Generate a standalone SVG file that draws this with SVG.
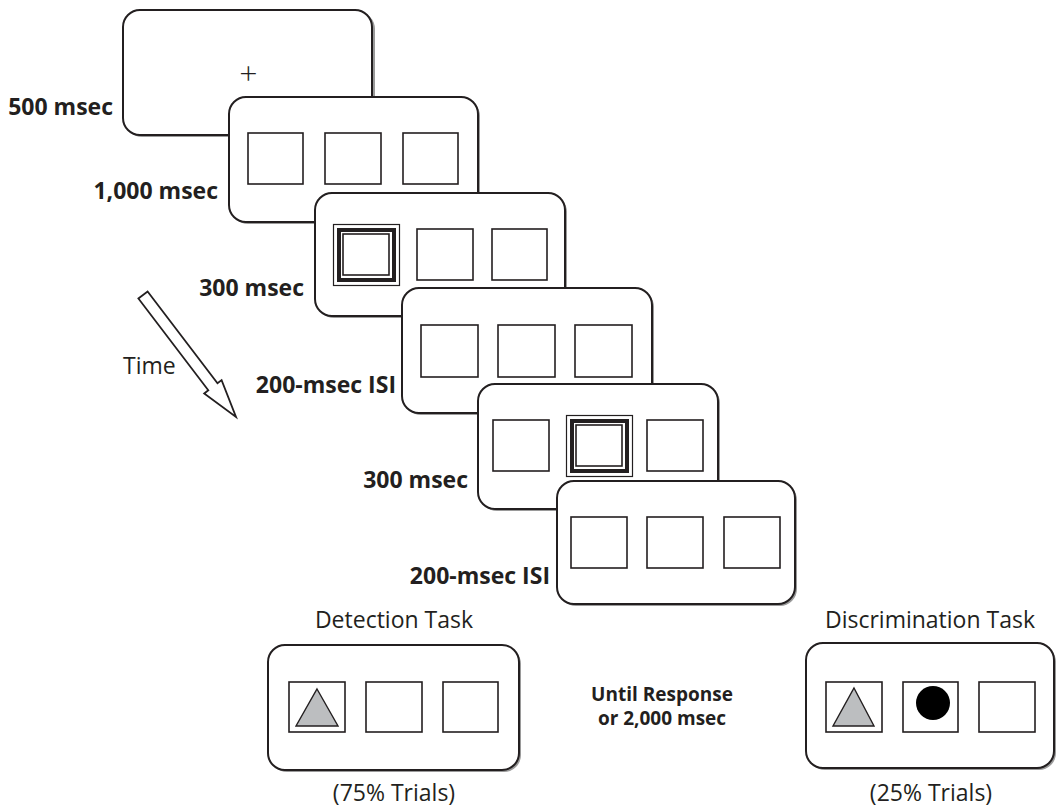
<svg xmlns="http://www.w3.org/2000/svg" width="1057" height="808" viewBox="0 0 1057 808">
<defs>
<style>
.bg{fill:#fff}
.sh{fill:#9a9a9a}
.fr{fill:#fff;stroke:#231f20;stroke-width:2}
.sq{fill:#fff;stroke:#231f20;stroke-width:1.6}
.thin{fill:none;stroke:#231f20;stroke-width:1.2}
.thick{fill:none;stroke:#231f20;stroke-width:4}
.inner{fill:none;stroke:#231f20;stroke-width:1.6}
.tri{fill:#bcbec0;stroke:#231f20;stroke-width:1.4}
.lbl{font-family:"Open Sans","Liberation Sans",sans-serif;font-weight:bold;font-size:23px;fill:#231f20;text-anchor:end}
.cap{font-family:"Open Sans","Liberation Sans",sans-serif;font-size:23px;fill:#231f20;text-anchor:middle}
.ur{font-family:"Open Sans","Liberation Sans",sans-serif;font-weight:bold;font-size:19px;fill:#231f20;text-anchor:middle}
</style>
<g id="cue">
<rect class="thin" x="0.5" y="0.5" width="66" height="61"/>
<rect class="thick" x="6" y="6" width="55" height="50"/>
<rect class="inner" x="10" y="10" width="46" height="41"/>
</g>
</defs>
<rect class="bg" width="1057" height="808"/>

<g id="frame1">
<rect class="sh" x="125" y="12" width="250" height="125" rx="17"/>
<rect class="fr" x="123" y="10" width="249" height="125" rx="17"/>
<text x="248.5" y="85" style="font-family:'Open Sans','Liberation Sans',sans-serif;font-size:32px;font-weight:300;fill:#231f20;text-anchor:middle">+</text>
<text class="lbl" x="113" y="115">500 msec</text>
</g>

<g id="frame2">
<rect class="sh" x="231" y="99" width="249" height="125" rx="17"/>
<rect class="fr" x="229" y="97" width="249" height="125" rx="17"/>
<rect class="sq" x="248" y="133" width="55" height="51"/>
<rect class="sq" x="325" y="133" width="56" height="51"/>
<rect class="sq" x="403" y="133" width="55" height="51"/>
<text class="lbl" x="218" y="199">1,000 msec</text>
</g>

<g id="frame3">
<rect class="sh" x="317" y="195" width="250" height="123" rx="17"/>
<rect class="fr" x="315" y="193" width="250" height="123" rx="17"/>
<use href="#cue" x="333" y="224"/>
<rect class="sq" x="417" y="229" width="56" height="51"/>
<rect class="sq" x="492" y="229" width="55" height="51"/>
<text class="lbl" x="304" y="296">300 msec</text>
</g>

<g id="frame4">
<rect class="sh" x="404" y="290" width="250" height="125" rx="17"/>
<rect class="fr" x="402" y="288" width="250" height="125" rx="17"/>
<rect class="sq" x="421" y="325" width="57" height="52"/>
<rect class="sq" x="498" y="325" width="57" height="52"/>
<rect class="sq" x="575" y="325" width="57" height="52"/>
<text class="lbl" x="396" y="393">200-msec ISI</text>
</g>

<g id="frame5">
<rect class="sh" x="480" y="386" width="240" height="125" rx="17"/>
<rect class="fr" x="478" y="384" width="240" height="125" rx="17"/>
<rect class="sq" x="493" y="420" width="56" height="51"/>
<use href="#cue" x="566" y="415"/>
<rect class="sq" x="647" y="420" width="56" height="51"/>
<text class="lbl" x="468" y="488">300 msec</text>
</g>

<g id="frame6">
<rect class="sh" x="559" y="483" width="238" height="123" rx="17"/>
<rect class="fr" x="557" y="481" width="238" height="123" rx="17"/>
<rect class="sq" x="571" y="517" width="56" height="51"/>
<rect class="sq" x="647" y="517" width="56" height="51"/>
<rect class="sq" x="724" y="517" width="56" height="51"/>
<text class="lbl" x="550" y="584">200-msec ISI</text>
</g>

<g id="detection">
<text class="cap" x="394" y="628">Detection Task</text>
<rect class="sh" x="270" y="647" width="251" height="125" rx="17"/>
<rect class="fr" x="268" y="645" width="251" height="125" rx="17"/>
<rect class="sq" x="289" y="682" width="56" height="50"/>
<polygon class="tri" points="317,689 338,726 296,726"/>
<rect class="sq" x="366" y="682" width="56" height="50"/>
<rect class="sq" x="443" y="682" width="55" height="50"/>
<text class="cap" x="394" y="801">(75% Trials)</text>
</g>

<g id="response-window">
<text class="ur" x="662" y="701">Until Response</text>
<text class="ur" x="662" y="725">or 2,000 msec</text>
</g>

<g id="discrimination">
<text class="cap" x="930" y="628">Discrimination Task</text>
<rect class="sh" x="808" y="645" width="248" height="125" rx="17"/>
<rect class="fr" x="806" y="643" width="248" height="125" rx="17"/>
<rect class="sq" x="826" y="682" width="56" height="50"/>
<polygon class="tri" points="854,688 874,726 833,726"/>
<rect class="sq" x="903" y="682" width="55" height="50"/>
<circle cx="933" cy="703" r="17" fill="#000"/>
<rect class="sq" x="979" y="682" width="56" height="50"/>
<text class="cap" x="931" y="801">(25% Trials)</text>
</g>

<g id="time-arrow">
<polygon points="147.6,291.5 217.5,383.3 221.6,380.1 236,417 204.2,393.5 208.3,390.3 138.4,298.5" fill="#fff" stroke="#231f20" stroke-width="1.8" stroke-linejoin="miter"/>
<text x="123" y="374" style="font-family:'Open Sans','Liberation Sans',sans-serif;font-size:23px;fill:#231f20">Time</text>
</g>
</svg>
